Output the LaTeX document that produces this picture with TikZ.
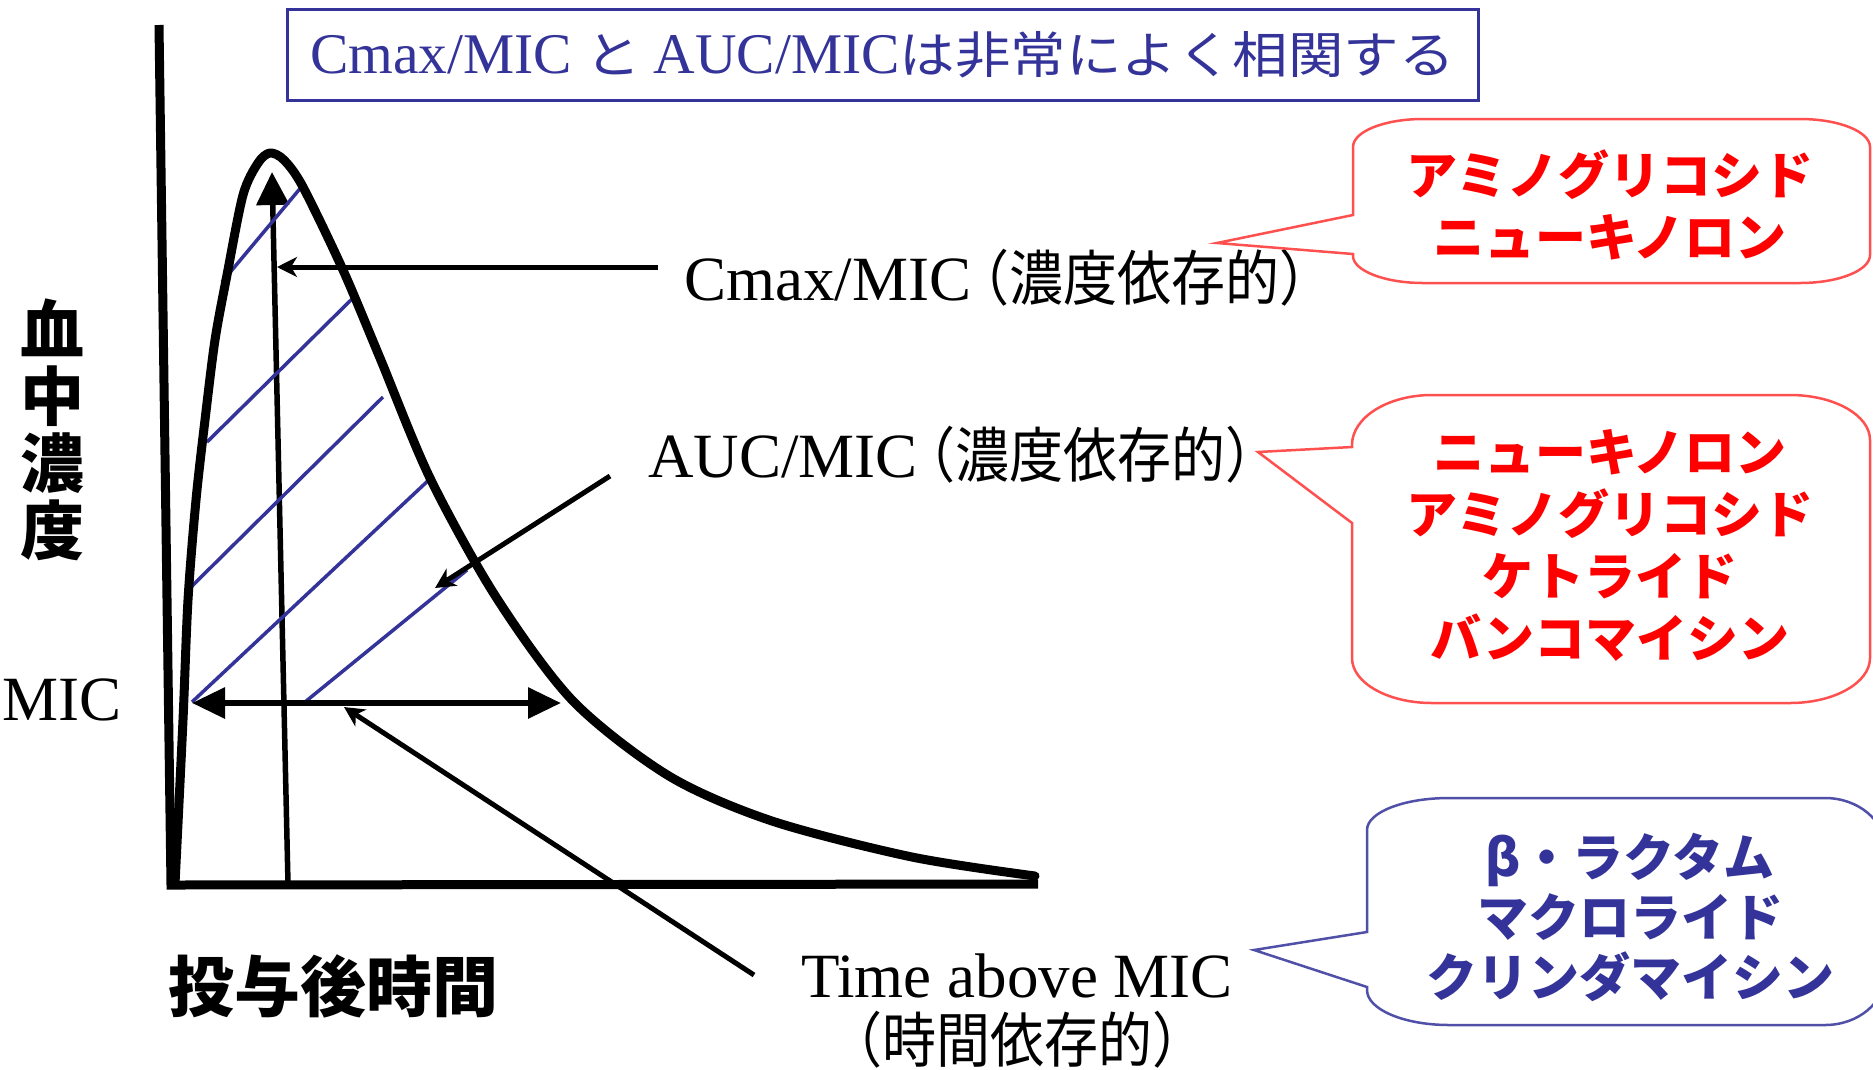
\documentclass[tikz,border=0pt]{standalone}
\usepackage{fontspec}
\usepackage{graphicx}
\setmainfont{Liberation Serif}
\newfontfamily\jpfont{Noto Sans CJK JP}
\usetikzlibrary{arrows.meta}
\definecolor{navy}{HTML}{333399}
\definecolor{calred}{HTML}{FF5050}
\definecolor{calblue}{HTML}{5050A8}
\definecolor{kred}{HTML}{FF0000}
\newcommand\jpx[3]{{\jpfont\fontsize{#1}{#1}\selectfont\scalebox{#2}[1]{#3}}}
\begin{document}
\begin{tikzpicture}[x=1pt,y=-1pt,
  axisline/.style={line width=9pt, line join=miter},
  pkcurve/.style={line width=9pt, line join=round, line cap=round},
  hatchline/.style={navy, line width=3.5pt},
  bigarrow/.style={line width=5.5pt, -{Triangle[length=33pt,width=32pt]}},
  dblarrow/.style={line width=6pt, {Triangle[length=33pt,width=30pt]}-{Triangle[length=33pt,width=30pt]}},
  smallarrow/.style={line width=5pt, -{Stealth[length=20pt,width=20pt,inset=6pt]}},
  lbl/.style={inner sep=0pt, font=\fontsize{63}{70}\selectfont},
  kata/.style={inner sep=0pt, align=center, font=\jpfont\bfseries\fontsize{51}{62}\selectfont},
  calloutR/.style={draw=calred, line width=2.5pt, fill=white},
  calloutB/.style={draw=calblue, line width=2.5pt, fill=white},
  titlebox/.style={draw=navy, line width=3pt, text=navy, minimum width=1191pt, minimum height=91pt, inner sep=0pt},
  axislbl/.style={inner sep=0pt, align=center, font=\jpfont\bfseries\fontsize{64}{67}\selectfont}
]
\useasboundingbox (0,0) rectangle (1873,1069);
\fill[white] (0,0) rectangle (1873,1069);
\clip (0,0) rectangle (1873,1069);

% axes
\coordinate (ytop) at (159,25);
\coordinate (orig) at (171,885);
\coordinate (xend) at (1038,884);
\draw[axisline] (ytop) -- (orig) -- (xend);

% Cmax vertical arrow
\coordinate (cmaxbase) at (288,884);
\coordinate (cmaxtip) at (272,172);
\draw[bigarrow] (cmaxbase) -- (cmaxtip);

% hatching
\coordinate (h1a) at (222,282); \coordinate (h1b) at (303,185);
\coordinate (h2a) at (207,442); \coordinate (h2b) at (353,298);
\coordinate (h3a) at (190,588); \coordinate (h3b) at (383,397);
\coordinate (h4a) at (192,702); \coordinate (h4b) at (432,477);
\coordinate (h5a) at (305,702); \coordinate (h5b) at (467,570);
\draw[hatchline] (h1a) -- (h1b);
\draw[hatchline] (h2a) -- (h2b);
\draw[hatchline] (h3a) -- (h3b);
\draw[hatchline] (h4a) -- (h4b);
\draw[hatchline] (h5a) -- (h5b);

% concentration curve
\draw[pkcurve] plot[smooth, tension=0.5] coordinates {(175,884) (183,720) (188,600) (196,500) (205,420) (215,340) (227,275) (243,195) (258,163) (270,153) (284,160) (303,187) (343,270) (380,358) (430,478) (496,597) (573,701) (669,776) (772,821) (912,857) (1035,876)};

% MIC double arrow
\coordinate (micl) at (192,703);
\coordinate (micr) at (561,703);
\draw[dblarrow] (micl) -- (micr);

% labels
\node[lbl, anchor=base west] (miclbl) at (2,720) {MIC};
\node[lbl, anchor=base west] (cmaxlbl) at (684,300) {Cmax/MIC\kern-16pt\jpx{60}{0.9}{（濃度依存的）}};
\node[lbl, anchor=base west] (auclbl) at (648,477) {AUC/MIC\kern-16pt\jpx{60}{0.9}{（濃度依存的）}};
\node[lbl, anchor=base] (tamlbl) at (1017,997) {Time above MIC};
\node[lbl, anchor=base] (tamlbl2) at (1017,1062) {\jpx{60}{0.9}{（時間依存的）}};

% pointer arrows
\coordinate (cmaxfrom) at (658,267);
\coordinate (cmaxto) at (277,267);
\draw[smallarrow] (cmaxfrom) -- (cmaxto);
\coordinate (aucfrom) at (610,476);
\coordinate (aucto) at (435,588);
\draw[smallarrow] (aucfrom) -- (aucto);
\coordinate (tamfrom) at (754,975);
\coordinate (tamto) at (344,707);
\draw[smallarrow] (tamfrom) -- (tamto);

% axis labels
\node[axislbl] (ylbl) at (52,430) {血\\中\\濃\\度};
\node[axislbl, font=\jpfont\bfseries\fontsize{66}{70}\selectfont] (xlbl) at (333,986) {投与後時間};

% title
\node[titlebox] (title) at (882.5,54.5) {\fontsize{57.5}{60}\selectfont Cmax/MIC\hspace{13pt}\jpx{50}{1.11}{と}\hspace{13pt}AUC/MIC\jpx{50}{1.11}{は非常によく相関する}};

% callout 1
\draw[calloutR] (1353,215) -- (1353,147) .. controls (1353,131.5) and (1384.4,119) .. (1423,119) -- (1800,119) .. controls (1838.6,119) and (1870,131.5) .. (1870,147) -- (1870,255) .. controls (1870,270.5) and (1838.6,283) .. (1800,283) -- (1423,283) .. controls (1384.4,283) and (1353,270.5) .. (1353,256) -- (1353,254) -- (1217,243) -- cycle;
\node[kata, text=kred] (c1) at (1610,204.5) {アミノグリコシド\\ニューキノロン};

% callout 2
\draw[calloutR] (1352,447) -- (1352,445) .. controls (1352,417.4) and (1387.8,395) .. (1432,395) -- (1790,395) .. controls (1834.2,395) and (1870,415.2) .. (1870,440) -- (1870,658) .. controls (1870,682.8) and (1834.2,703) .. (1790,703) -- (1432,703) .. controls (1387.8,703) and (1352,682.8) .. (1352,658) -- (1352,523) -- (1258,452) -- cycle;
\node[kata, text=kred] (c2) at (1610,545) {ニューキノロン\\アミノグリコシド\\ケトライド\\バンコマイシン};

% callout 3
\draw[calloutB] (1367,932) -- (1367,830) .. controls (1367,812.3) and (1403.7,798) .. (1449,798) -- (1825,798) .. controls (1858.1,798) and (1885,820.4) .. (1885,848) -- (1885,975) .. controls (1885,1002.6) and (1858.1,1025) .. (1825,1025) -- (1449,1025) .. controls (1403.7,1025) and (1367,1009.3) .. (1367,990) -- (1367,987) -- (1254,950) -- cycle;
\node[kata, text=navy, font=\jpfont\bfseries\fontsize{51}{60}\selectfont] (c3) at (1630,917) {β・ラクタム\\マクロライド\\クリンダマイシン};
\end{tikzpicture}
\end{document}
